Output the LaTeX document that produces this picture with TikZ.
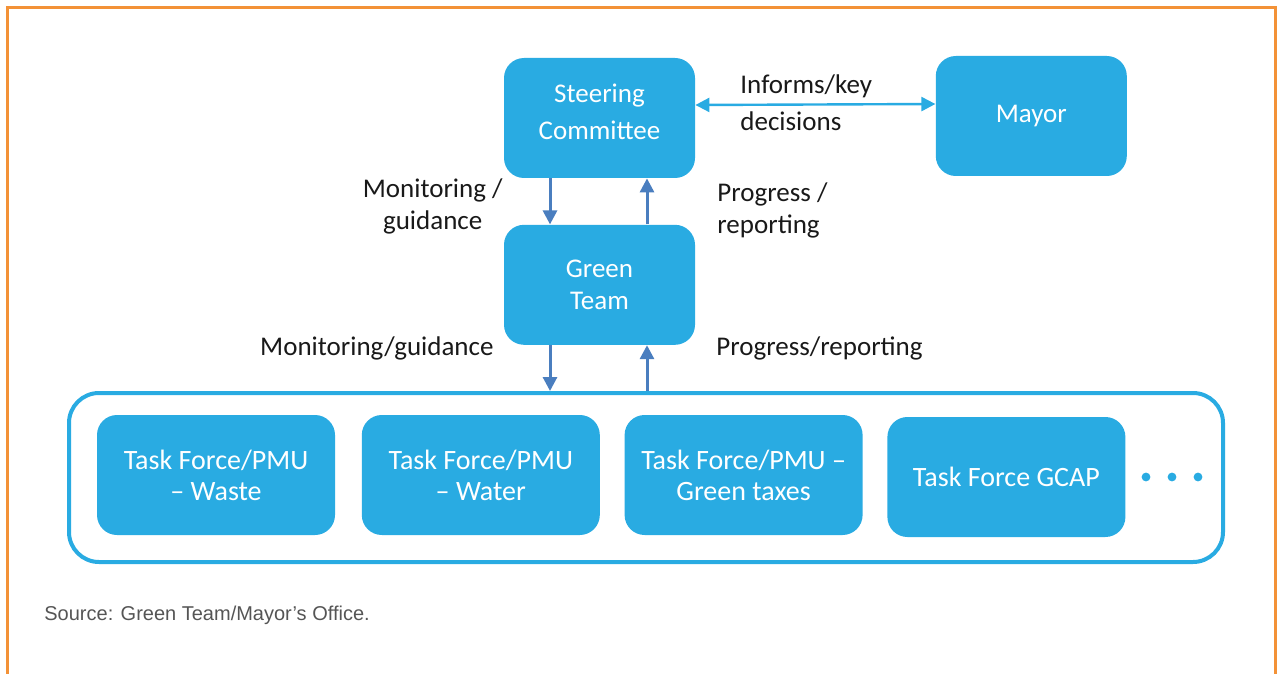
\documentclass[tikz,border=0pt]{standalone}
\usepackage{fontspec}
\setmainfont{Carlito}
\newfontfamily\srcfont{Liberation Sans}
\definecolor{gtBlue}{HTML}{29ABE2}
\definecolor{gtArrow}{HTML}{4A7EBF}
\definecolor{gtOrange}{HTML}{F39237}
\definecolor{gtGrey}{HTML}{555555}
\usetikzlibrary{arrows.meta, positioning}

\begin{document}
\begin{tikzpicture}[x=0.5pt, y=-0.5pt,
  unit/.style={fill=gtBlue, rounded corners=10pt, text=white, align=center, inner sep=0pt,
    minimum width=95.5pt, minimum height=60pt, font=\fontsize{13.5}{18.5}\selectfont},
  taskbox/.style={unit, minimum width=119pt, font=\fontsize{14}{15.5}\selectfont},
  lbl/.style={inner sep=0pt, text=black!90, font=\fontsize{13.5}{16}\selectfont},
  flow/.style={draw=gtArrow, line width=1.5pt, -{Triangle[length=7pt, width=7pt]}},
  link/.style={draw=gtBlue, line width=1.2pt, {Triangle[length=7pt, width=7pt]}-{Triangle[length=7pt, width=7pt]}},
]
  \useasboundingbox (0,0) rectangle (1280,674);
  \draw[gtOrange, line width=1.5pt] (7,674) -- (7,8) -- (1275,8) -- (1275,674);

  % top of the structure
  \node[unit] (steer) at (599.5,118) {Steering\\Committee\\[-12pt]};
  \node[unit, right=120pt of steer, yshift=1pt] (mayor) {Mayor};
  \node[unit, below=23pt of steer, font=\fontsize{13.5}{16}\selectfont] (green) {Green\\Team};

  % task forces
  \node[draw=gtBlue, line width=2pt, rounded corners=15pt, minimum width=577pt, minimum height=84.5pt] (tfs) at (646,477.5) {};
  \node[taskbox] (waste) at (216,475) {Task Force/PMU\\– Waste};
  \node[taskbox, right=13pt of waste] (water) {Task Force/PMU\\– Water};
  \node[taskbox, right=12pt of water] (taxes) {Task Force/PMU –\\Green taxes};
  \node[taskbox, right=12pt of taxes, yshift=-1pt] (gcap) {Task Force GCAP};
  \foreach \x in {1146,1172,1198}
    \fill[gtBlue] (\x,477) circle (2.2pt);

  \draw[link] ([yshift=6.5pt]steer.east) -- ([yshift=6pt]mayor.west);
  \draw[flow] ([xshift=-24.75pt]steer.south) -- ([xshift=-24.75pt]green.north);
  \draw[flow] ([xshift=23.75pt]green.north) -- ([xshift=23.75pt]steer.south);
  \draw[flow] ([xshift=-24.75pt]green.south) -- ([xshift=-24.75pt]green.south |- tfs.north);
  \draw[flow] ([xshift=23.75pt]green.south |- tfs.north) -- ([xshift=23.75pt]green.south);

  \node[lbl, anchor=west, align=left, font=\fontsize{13.5}{18.5}\selectfont] (inform) at (740,103) {Informs/key\\decisions};
  \node[lbl, anchor=east, align=center] (guide1) at (503,206) {Monitoring /\\guidance};
  \node[lbl, anchor=west, align=left] (report1) at (717,210) {Progress /\\reporting};
  \node[lbl, anchor=east] (guide2) at (494,348) {Monitoring/guidance};
  \node[lbl, anchor=west] (report2) at (716,348) {Progress/reporting};

  \node[anchor=west, inner sep=0pt, text=gtGrey, font=\srcfont\fontsize{10}{12}\selectfont] (source) at (44,615) {Source: Green Team/Mayor’s Office.};
\end{tikzpicture}
\end{document}
